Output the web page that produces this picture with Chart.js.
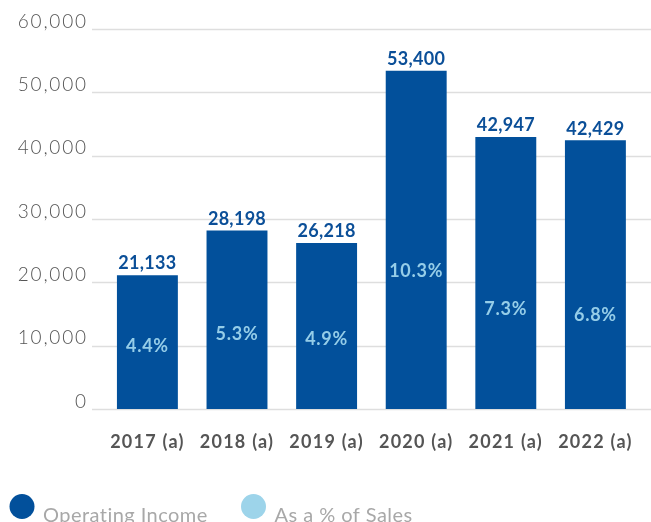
<!DOCTYPE html>
<html>
<head>
<meta charset="utf-8">
<script src="https://cdn.jsdelivr.net/npm/chart.js@4.4.1/dist/chart.umd.min.js"></script>
<style>
  html, body { margin: 0; padding: 0; background: #ffffff; overflow: hidden; }
  #wrap { width: 651px; height: 522px; }
</style>
</head>
<body>
<div id="wrap"><canvas id="chart" width="651" height="522"></canvas></div>
<script>
// Fiscal years shown on the category axis
const years = ['2017 (a)', '2018 (a)', '2019 (a)', '2020 (a)', '2021 (a)', '2022 (a)'];
// Operating income per year
const operatingIncome = [21133, 28198, 26218, 53400, 42947, 42429];
// Operating income as a share of sales (%)
const pctOfSales = [4.4, 5.3, 4.9, 10.3, 7.3, 6.8];
// Left axis ticks
const incomeTicks = [0, 10000, 20000, 30000, 40000, 50000, 60000];

const DARK_BLUE = '#02509b';
const LIGHT_BLUE = '#9dd4ea';
const FONT = 'Lato, "Open Sans", sans-serif';

// Letter spacing for the category labels (drawn in the scale layers before the bars)
const spacingPlugin = {
  id: 'axisSpacing',
  beforeDraw(chart) {
    chart.ctx.letterSpacing = '1.25px';
  }
};

// Horizontal rules that run a little past the plot area on both sides
const gridPlugin = {
  id: 'wideGrid',
  beforeDatasetsDraw(chart) {
    const { ctx } = chart;
    const y = chart.scales.y;
    ctx.letterSpacing = '0px';
    ctx.save();
    ctx.strokeStyle = '#dedede';
    ctx.lineWidth = 1.5;
    incomeTicks.forEach(v => {
      const py = Math.round(y.getPixelForValue(v)) + 0.5;
      ctx.beginPath();
      ctx.moveTo(92, py);
      ctx.lineTo(651, py);
      ctx.stroke();
    });
    ctx.restore();
  }
};

// Value labels above bars and share-of-sales labels inside them
const labelPlugin = {
  id: 'valueLabels',
  afterDatasetsDraw(chart) {
    const { ctx } = chart;
    ctx.save();
    ctx.textAlign = 'center';
    ctx.textBaseline = 'middle';

    const barMeta = chart.getDatasetMeta(0);
    ctx.font = 'bold 18px ' + FONT;
    ctx.letterSpacing = '0.3px';
    ctx.fillStyle = '#0b4f98';
    barMeta.data.forEach((el, i) => {
      ctx.fillText(operatingIncome[i].toLocaleString('en-US'), el.x, el.y - 11.5);
    });

    const pctMeta = chart.getDatasetMeta(1);
    ctx.letterSpacing = '0.75px';
    ctx.fillStyle = '#95cde8';
    pctMeta.data.forEach((el, i) => {
      ctx.fillText(pctOfSales[i].toFixed(1) + '%', el.x, el.y - 7.5);
    });
    ctx.restore();
    // value-axis labels are drawn after the datasets (ticks.z = 1) with wider spacing
    ctx.letterSpacing = '1.8px';
  }
};

// Legend along the bottom edge
const legendPlugin = {
  id: 'bottomLegend',
  afterDraw(chart) {
    const { ctx } = chart;
    const items = [
      { x: 22, color: DARK_BLUE, text: chart.data.datasets[0].label },
      { x: 253.5, color: LIGHT_BLUE, text: chart.data.datasets[1].label }
    ];
    ctx.save();
    ctx.font = '20px ' + FONT;
    ctx.letterSpacing = '0.45px';
    ctx.textAlign = 'left';
    ctx.textBaseline = 'alphabetic';
    items.forEach(it => {
      ctx.fillStyle = it.color;
      ctx.beginPath();
      ctx.arc(it.x, 506.5, 12.5, 0, Math.PI * 2);
      ctx.fill();
      ctx.fillStyle = '#a8a8a8';
      ctx.fillText(it.text, it.x + 21, 522);
    });
    ctx.restore();
  }
};

new Chart(document.getElementById('chart'), {
  data: {
    labels: years,
    datasets: [
      {
        type: 'bar',
        label: 'Operating Income',
        data: operatingIncome,
        backgroundColor: DARK_BLUE,
        barPercentage: 0.68,
        categoryPercentage: 1.0,
        yAxisID: 'y',
        order: 2
      },
      {
        type: 'line',
        label: 'As a % of Sales',
        data: pctOfSales,
        showLine: false,
        pointRadius: 0,
        borderColor: LIGHT_BLUE,
        backgroundColor: LIGHT_BLUE,
        yAxisID: 'y2',
        order: 1
      }
    ]
  },
  options: {
    responsive: false,
    animation: false,
    layout: { padding: { top: 29, right: 10.8, left: 0, bottom: 0 } },
    plugins: {
      legend: { display: false },
      tooltip: { enabled: false }
    },
    scales: {
      x: {
        grid: { display: false, drawTicks: false },
        border: { display: false },
        ticks: {
          color: '#555555',
          font: { family: FONT, size: 18, weight: 'bold' },
          padding: 22,
          maxRotation: 0
        },
        afterFit(scale) { scale.height = 113; }
      },
      y: {
        min: 0,
        max: 60000,
        afterBuildTicks(scale) { scale.ticks = incomeTicks.map(v => ({ value: v })); },
        grid: { display: false, drawTicks: false },
        border: { display: false },
        ticks: {
          z: 1,
          color: '#555555',
          font: { family: FONT, size: 19, weight: 300 },
          padding: 14.8,
          labelOffset: -7.5,
          callback: v => v.toLocaleString('en-US')
        },
        afterFit(scale) { scale.width = 102.6; }
      },
      y2: {
        display: false,
        min: 0,
        max: 30
      }
    }
  },
  plugins: [spacingPlugin, gridPlugin, labelPlugin, legendPlugin]
});
</script>
</body>
</html>
